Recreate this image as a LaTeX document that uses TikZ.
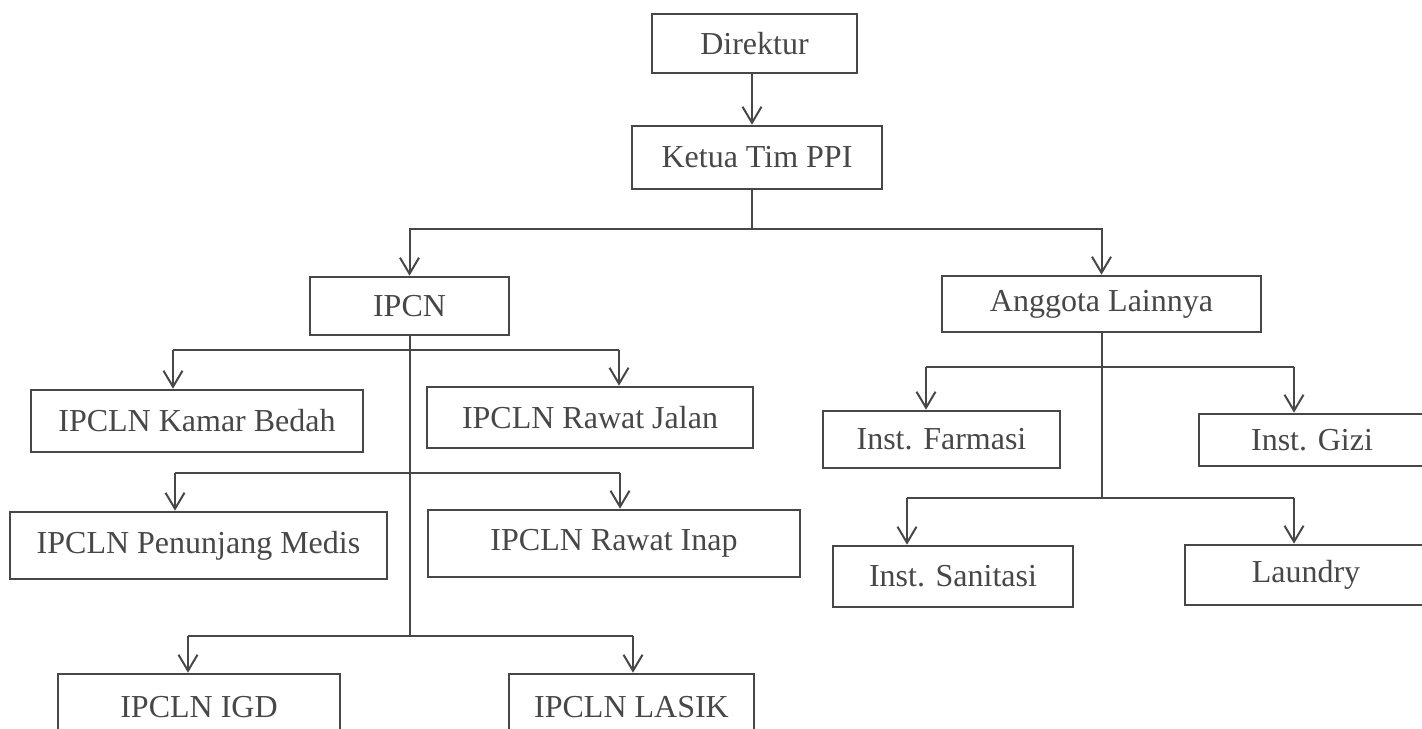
\documentclass[tikz,border=0pt]{standalone}
\usepackage{fontspec}
\setmainfont{Liberation Serif}
\usetikzlibrary{
  arrows.meta,
  positioning,  % relative placement
}
\colorlet{inkgray}{black!72}
\tikzset{
  semithick,
  >={Straight Barb[length=8pt,width=9.5pt]},
  unit box/.style={
    draw=inkgray,
    line width=1.3pt,
    rectangle,
    inner sep=0mm,
    text=inkgray,
    font=\fontsize{16pt}{19pt}\selectfont
  },
  link/.style={
    draw=inkgray,
    line width=1pt
  }
}

\begin{document}
\begin{tikzpicture}[x=0.5pt,y=-0.5pt]
\useasboundingbox (0,0) rectangle (1422,728);
\clip (0,0) rectangle (1422,728);
% top of the chart
\node[unit box,minimum width=102.5pt,minimum height=29.5pt] (dir)    at (754.5,43.5) {Direktur};
\node[unit box,minimum width=125pt,minimum height=31.5pt]   (ketua)  at (757,157.5)  {Ketua Tim PPI};
\node[unit box,minimum width=99.5pt,minimum height=29pt]    (ipcn)   at (409.5,306)  {IPCN};
\node[unit box,minimum width=159.5pt,minimum height=28pt]   (lain)   at (1101.5,304) {Anggota Lainnya};
% IPCLN units
\node[unit box,minimum width=166pt,minimum height=31pt]     (bedah)  at (197,421)    {IPCLN Kamar Bedah};
\node[unit box,minimum width=163pt,minimum height=30.5pt]   (jalan)  at (590,417.5)  {IPCLN Rawat Jalan};
\node[unit box,minimum width=188.5pt,minimum height=33.5pt] (medis)  at (198.5,545.5) {IPCLN Penunjang Medis};
\node[unit box,minimum width=186pt,minimum height=33.5pt]   (inap)   at (614,543.5)  {IPCLN Rawat Inap};
\node[unit box,minimum width=141pt,minimum height=33pt]     (igd)    at (199,707)    {IPCLN IGD};
\node[unit box,minimum width=122.5pt,minimum height=33pt]   (lasik)  at (631.5,707)  {IPCLN LASIK};
% other members
\node[unit box,minimum width=118.5pt,minimum height=28.5pt] (farmasi) at (941.5,439.5) {Inst. Farmasi};
\node[unit box,minimum width=113pt,minimum height=26pt]     (gizi)    at (1312,440)    {Inst. Gizi};
\node[unit box,minimum width=120pt,minimum height=30.5pt]   (sanitasi) at (953,576.5)  {Inst. Sanitasi};
\node[unit box,minimum width=121pt,minimum height=30pt]     (laundry) at (1306,575)    {Laundry};

% branch points
\coordinate (top split) at (752,229);
\coordinate (bar1 west) at (173,350);
\coordinate (bar1 east) at (619,350);
\coordinate (bar2 west) at (175,473);
\coordinate (bar2 east) at (620,473);
\coordinate (bar3 west) at (188,636);
\coordinate (bar3 east) at (633,636);
\coordinate (bar4 west) at (926,367);
\coordinate (bar4 east) at (1294,367);
\coordinate (bar5 west) at (907,498);
\coordinate (bar5 east) at (1294,498);

\path[link,->] (dir.south -| top split) -- (ketua.north -| top split);
\path[link] (ketua.south -| top split) -- (top split);
\path[link,->] (top split) -| (ipcn);
\path[link,->] (top split) -| (lain);

% IPCN side
\path[link] (ipcn.south) -- (ipcn.south |- bar3 west);
\path[link] (bar1 west) -- (bar1 east);
\path[link,->] (bar1 west) -- (bar1 west |- bedah.north);
\path[link,->] (bar1 east) -- (bar1 east |- jalan.north);
\path[link] (bar2 west) -- (bar2 east);
\path[link,->] (bar2 west) -- (bar2 west |- medis.north);
\path[link,->] (bar2 east) -- (bar2 east |- inap.north);
\path[link] (bar3 west) -- (bar3 east);
\path[link,->] (bar3 west) -- (bar3 west |- igd.north);
\path[link,->] (bar3 east) -- (bar3 east |- lasik.north);

% Anggota Lainnya side
\path[link] (lain.south) -- (lain.south |- bar5 west);
\path[link] (bar4 west) -- (bar4 east);
\path[link,->] (bar4 west) -- (bar4 west |- farmasi.north);
\path[link,->] (bar4 east) -- (bar4 east |- gizi.north);
\path[link] (bar5 west) -- (bar5 east);
\path[link,->] (bar5 west) -- (bar5 west |- sanitasi.north);
\path[link,->] (bar5 east) -- (bar5 east |- laundry.north);
\end{tikzpicture}
\end{document}
